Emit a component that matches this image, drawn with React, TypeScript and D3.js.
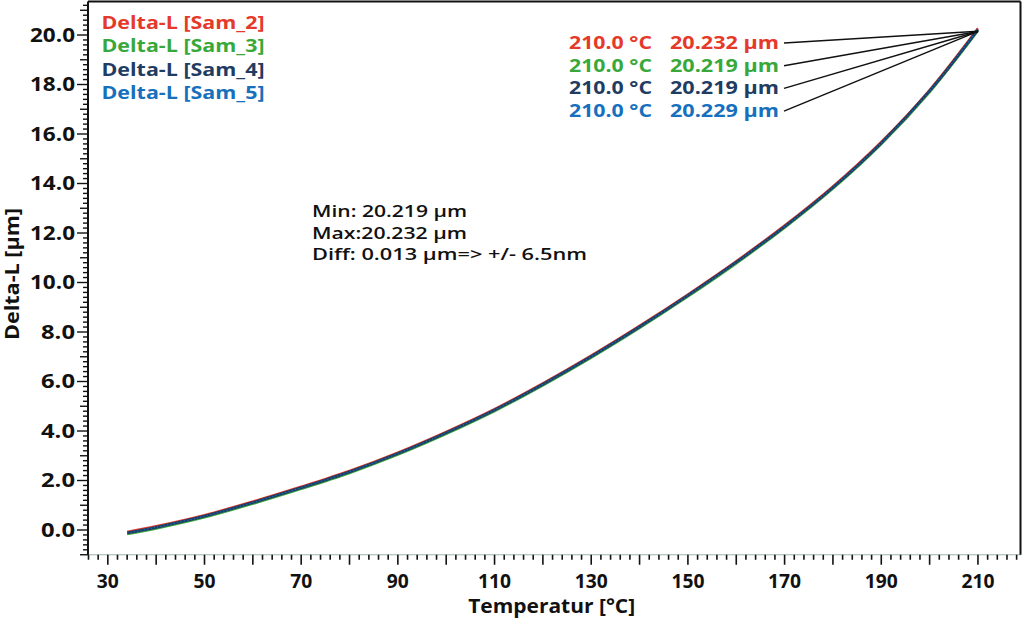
import * as d3 from 'd3'

// Temperature grid of the measurement (°C) and the read Delta-L curve (µm)
const TEMPS = [34, 40, 50, 60, 70, 80, 90, 100, 110, 120, 130, 140, 150, 160, 170, 180, 190, 200, 210]
const DELTA_L = [-0.12, 0.11, 0.56, 1.11, 1.71, 2.35, 3.09, 3.93, 4.85, 5.89, 7.01, 8.21, 9.48, 10.82, 12.26, 13.84, 15.64, 17.74, 20.23]

const SAMPLES = ['Sam_2', 'Sam_3', 'Sam_4', 'Sam_5']
const END_TEMPS = [210.0, 210.0, 210.0, 210.0]
const END_VALUES = [20.232, 20.219, 20.219, 20.229]
const COLORS = ['#e5392a', '#39a83b', '#1f3c62', '#1670bd']

const X_TICKS = [30, 50, 70, 90, 110, 130, 150, 170, 190, 210]
const Y_TICKS = [0, 2, 4, 6, 8, 10, 12, 14, 16, 18, 20]

const STATS = ['Min: 20.219 µm', 'Max:20.232 µm', 'Diff: 0.013 µm=> +/- 6.5nm']
const STATS_W = [155, 155, 275]

const W = 1024
const H = 627
const L = 88, R = 1020.5, T = 1.6, B = 554.75
const FONT = '"Open Sans", Lato, sans-serif'
const FIT = 'spacingAndGlyphs'

// drawing style per series: small vertical shift so the overlapping lines show their edges
const LINE_STYLE = [
  { dy: -1.0, width: 2.4, dash: '' },
  { dy: 1.2, width: 2.4, dash: '' },
  { dy: 0, width: 2.8, dash: '' },
  { dy: 0, width: 1.2, dash: '1.2 2.2' },
]
const DRAW_ORDER = [1, 0, 2, 3]

export default function App() {
  const x = d3.scaleLinear().domain([25.9, 218.8]).range([L, R])
  const y = d3.scaleLinear().domain([-1, 21.35]).range([B, T])

  const series = SAMPLES.map((s, i) =>
    TEMPS.map((t, k) => ({ t, v: k === TEMPS.length - 1 ? END_VALUES[i] : DELTA_L[k] }))
  )
  const line = d3.line<{ t: number; v: number }>()
    .x(d => x(d.t)).y(d => y(d.v)).curve(d3.curveCatmullRom)

  const xMinor = d3.range(26, 219, 2)
  const yMinor = d3.range(-10, 214, 2).map(v => v / 10)

  return (
    <svg width={W} height={H} style={{ position: 'absolute', left: 0, top: 0, background: '#fff' }}
      fontFamily={FONT}>
      {/* series */}
      {DRAW_ORDER.map(i => (
        <path key={SAMPLES[i]} d={line(series[i]) ?? ''} fill="none" stroke={COLORS[i]}
          strokeWidth={LINE_STYLE[i].width} strokeDasharray={LINE_STYLE[i].dash || undefined}
          transform={`translate(0,${LINE_STYLE[i].dy})`} />
      ))}

      {/* frame */}
      <line x1={L} x2={R} y1={B} y2={B} stroke="#9fb3b0" strokeWidth={1} />
      <line x1={L} x2={L} y1={T} y2={B} stroke="#111" strokeWidth={2} />
      <line x1={L} x2={R} y1={T} y2={T} stroke="#111" strokeWidth={2} />
      <line x1={R} x2={R} y1={T} y2={B} stroke="#111" strokeWidth={2} />

      {/* x ticks */}
      {xMinor.map(v => {
        const len = v % 10 === 0 ? 10 : 5
        return <line key={'xt' + v} x1={x(v)} x2={x(v)} y1={B} y2={B + len} stroke="#111" strokeWidth={1.6} />
      })}
      {X_TICKS.map(v => (
        <text key={'xl' + v} x={x(v)} y={588} textAnchor="middle" fontSize={19} fontWeight={700} fill="#111"
          textLength={v >= 100 ? 33 : 22} lengthAdjust={FIT}>{v}</text>
      ))}
      <text x={551.7} y={613} textAnchor="middle" fontSize={19} fontWeight={700} fill="#111"
        textLength={167} lengthAdjust={FIT}>Temperatur [°C]</text>

      {/* y ticks */}
      {yMinor.map(v => {
        const r = Math.round(v * 10)
        const len = r % 20 === 0 ? 11 : r % 10 === 0 ? 8 : 5
        return <line key={'yt' + r} x1={L - len} x2={L} y1={y(v)} y2={y(v)} stroke="#111" strokeWidth={1.4} />
      })}
      {Y_TICKS.map(v => (
        <text key={'yl' + v} x={75} y={y(v)} dy="0.36em" textAnchor="end" fontSize={19} fontWeight={700} fill="#111"
          textLength={v >= 10 ? 45 : 34} lengthAdjust={FIT}>
          {v.toFixed(1)}
        </text>
      ))}
      <text transform={`translate(19,${274}) rotate(-90)`} textAnchor="middle" fontSize={19} fontWeight={700} fill="#111"
        textLength={132} lengthAdjust={FIT}>
        Delta-L [µm]
      </text>

      {/* legend */}
      {SAMPLES.map((s, i) => (
        <text key={'lg' + s} x={101.5} y={29 + i * 23.3} fontSize={18} fontWeight={700} fill={COLORS[i]}
          textLength={163} lengthAdjust={FIT}>
          {`Delta-L [${s}]`}
        </text>
      ))}

      {/* end value readouts with leader lines */}
      {SAMPLES.map((s, i) => {
        const ty = 49 + i * 22.7
        return (
          <g key={'ro' + s}>
            <line x1={784} y1={ty - 6} x2={x(END_TEMPS[i])} y2={y(END_VALUES[i]) + 2} stroke="#111" strokeWidth={1.5} />
            <text x={569} y={ty} fontSize={17} fontWeight={700} fill={COLORS[i]}
              textLength={83} lengthAdjust={FIT}>{`${END_TEMPS[i].toFixed(1)} °C`}</text>
            <text x={670} y={ty} fontSize={17} fontWeight={700} fill={COLORS[i]}
              textLength={109} lengthAdjust={FIT}>{`${END_VALUES[i].toFixed(3)} µm`}</text>
          </g>
        )
      })}

      {/* statistics */}
      {STATS.map((s, i) => (
        <text key={'st' + i} x={312} y={217 + i * 21.7} fontSize={17} fontWeight={600} fill="#111"
          textLength={STATS_W[i]} lengthAdjust={FIT}>{s}</text>
      ))}
    </svg>
  )
}
